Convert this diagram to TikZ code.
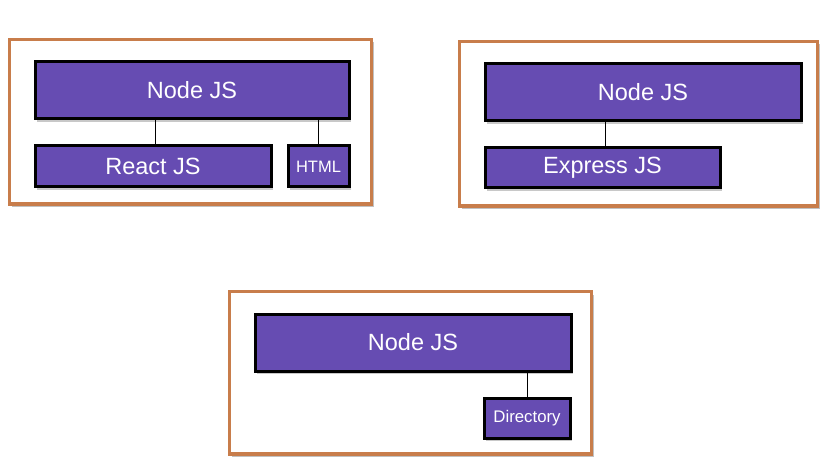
\documentclass[tikz,border=0pt]{standalone}
\usepackage{fontspec}
\setmainfont{Liberation Sans}
\usetikzlibrary{shadows}
\definecolor{boxpurple}{RGB}{102,76,178}
\definecolor{frameorange}{RGB}{200,125,75}
\begin{document}
\begin{tikzpicture}[x=1pt,y=-1pt,
  frame/.style={draw=frameorange,line width=3.2pt,fill=white,
    drop shadow={shadow xshift=2pt,shadow yshift=-3pt,opacity=0.35,fill=black!70}},
  comp/.style={draw=black,line width=3pt,fill=boxpurple,text=white,anchor=north west,inner sep=0pt,
    drop shadow={shadow xshift=2pt,shadow yshift=-3pt,opacity=0.3,fill=black!70}},
  big/.style={font=\fontsize{23.5}{26}\selectfont},
  link/.style={draw=black,line width=0.8pt}]
\useasboundingbox (0,0) rectangle (831,468);
% frames
\path[frame] (9.5,39.5) rectangle (371.5,204);
\path[frame] (459.5,41.5) rectangle (817.5,206);
\path[frame] (229.5,291.5) rectangle (591.5,454);
% group 1
\node[comp,big,minimum width=314pt,minimum height=57pt] (n1) at (33.5,60.5) {Node JS};
\node[comp,big,minimum width=236pt,minimum height=41pt] (r1) at (33.5,144.5) {React JS};
\node[comp,font=\fontsize{16.5}{19}\selectfont,minimum width=61pt,minimum height=41pt] (h1) at (286.5,144.5) {HTML};
\draw[link] (r1.north -| 155,0) -- (n1.south -| 155,0);
\draw[link] (h1.north) -- (h1.north |- n1.south);
% group 2
\node[comp,big,minimum width=316pt,minimum height=57pt] (n2) at (483.5,62.5) {Node JS};
\node[comp,big,minimum width=235pt,minimum height=40pt] (e2) at (483.5,146.5) {Express JS};
\draw[link] (e2.north -| 605,0) -- (n2.south -| 605,0);
% group 3
\node[comp,big,minimum width=316pt,minimum height=57pt] (n3) at (253.5,312.5) {Node JS};
\node[comp,font=\fontsize{16.8}{19}\selectfont,minimum width=86pt,minimum height=40pt] (d3) at (482.5,396.5) {Directory};
\draw[link] (d3.north -| 527,0) -- (n3.south -| 527,0);
\end{tikzpicture}
\end{document}
